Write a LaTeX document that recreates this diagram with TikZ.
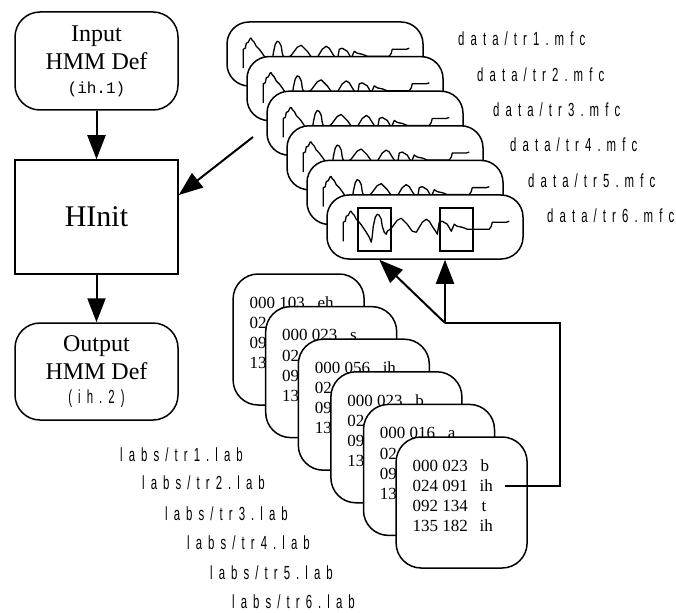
\documentclass[tikz,border=0pt]{standalone}
\usepackage{fontspec}
\setmainfont{Liberation Serif}
\newfontfamily\lblfont[FakeStretch=0.6,LetterSpace=32]{Liberation Sans}
\newfontfamily\codefont{Liberation Mono}
\usetikzlibrary{arrows.meta,calc}
\tikzset{
  box/.style={draw,line width=1.5pt,fill=white,inner sep=0pt},
  roundbox/.style={box,rounded corners=25pt},
  databox/.style={box,rounded corners=22pt,minimum width=196pt,minimum height=64pt},
  labbox/.style={box,rounded corners=25pt,minimum width=131pt,minimum height=131pt},
  wave/.style={line width=1.3pt,line join=round},
  arr/.style={line width=2pt,-{Triangle[length=24pt,width=18pt]}},
  conn/.style={line width=2pt},
  fname/.style={font=\lblfont\fontsize{19}{21}\selectfont,anchor=west,inner sep=0pt},
  labtxt/.style={font=\fontsize{17}{20}\selectfont,anchor=base west,inner sep=0pt},
  segbox/.style={draw,line width=1.5pt,inner sep=0pt,minimum width=33pt,minimum height=43pt,anchor=north west},
}
\newcommand\drawwave[1]{%
  \begin{scope}[shift={(#1.north west)}]
    \draw[wave] plot coordinates {(17,47) (17,28) (19,27) (20,22) (22,21) (24,17) (25,17) (26,19) (28,21) (30,25) (33,28) (36,32) (40,38) (43,43) (45,48) (46,42) (47,32) (49,23) (51,20) (53,21) (55,25) (56,32) (58,38) (60,40) (61,37) (65,34) (68,30) (71,26) (75,24) (78,27) (81,30) (86,37) (90,38) (93,33) (96,28) (100,25) (103,27) (106,32) (110,38) (111,40) (113,28) (116,27) (121,30) (125,37) (128,30) (131,32) (136,33) (141,35) (163,35) (165,32) (166,28) (180,28) (183,27)};
  \end{scope}}
\begin{document}
\begin{tikzpicture}[x=1pt,y=-1pt]
\useasboundingbox (0,0) rectangle (676,612);

% left column
\node[roundbox,minimum width=163pt,minimum height=98pt,align=center,
      font=\fontsize{24}{28}\selectfont] (in) at (96.5,61)
  {Input\\HMM Def\\[-4pt]{\codefont\fontsize{16}{18}\selectfont (ih.1)}};
\node[box,minimum width=163pt,minimum height=114pt,
      font=\fontsize{30}{34}\selectfont] (hinit) at (96.5,217) {HInit};
\node[roundbox,minimum width=163pt,minimum height=97pt,align=center,
      font=\fontsize{24}{28}\selectfont] (out) at (96.5,371.5)
  {Output\\HMM Def\\[-4pt]{\lblfont\fontsize{19}{21}\selectfont (ih.2)}};
\draw[arr] (in) -- (hinit);
\draw[arr] (hinit) -- (out);

% data files
\foreach \k in {1,...,6}{
  \node[databox] (d\k) at ({305+20*\k},{19.4+34.6*\k}) {};
  \drawwave{d\k}
}
\node[segbox] (seg1) at ($(d6.north west)+(31,13)$) {};
\node[segbox] (seg2) at ($(d6.north west)+(113,13)$) {};

\node[fname] (f1) at (458,39) {data/tr1.mfc};
\node[fname] (f2) at (477,75) {data/tr2.mfc};
\node[fname] (f3) at (493,110) {data/tr3.mfc};
\node[fname] (f4) at (510,145) {data/tr4.mfc};
\node[fname] (f5) at (528,181) {data/tr5.mfc};
\node[fname] (f6) at (547,216) {data/tr6.mfc};

% arrow from data to HInit
\coordinate (dtail) at (253,137);
\draw[arr] (dtail) -- ([yshift=22pt]hinit.east);

% label files
\foreach \k/\n/\p in {1/103/eh,2/023/s,3/056/ih,4/023/b,5/016/a}{
  \node[labbox] (l\k) at ({266+32.6*\k},{306.9+32.6*\k}) {};
  \node[labtxt] (l\k-a) at ($(l\k.north west)+(17,35)$) {000 \n};
  \node[labtxt] (l\k-p) at ($(l\k.north west)+(85,35)$) {\p};
  \node[labtxt] (l\k-b) at ($(l\k.north west)+(17,55.5)$) {02};
  \node[labtxt] (l\k-c) at ($(l\k.north west)+(17,75.5)$) {09};
  \node[labtxt] (l\k-d) at ($(l\k.north west)+(17,95.5)$) {13};
}
\node[labbox] (l6) at ({266+32.6*6},{306.9+32.6*6}) {};
\node[labtxt] (l6-n1) at ($(l6.north west)+(17,35)$) {000 023};
\node[labtxt] (l6-q1) at ($(l6.north west)+(85,35)$) {b};
\node[labtxt] (l6-n2) at ($(l6.north west)+(17,55.5)$) {024 091};
\node[labtxt] (l6-q2) at ($(l6.north west)+(84,55.5)$) {ih};
\node[labtxt] (l6-n3) at ($(l6.north west)+(17,75.5)$) {092 134};
\node[labtxt] (l6-q3) at ($(l6.north west)+(86,75.5)$) {t};
\node[labtxt] (l6-n4) at ($(l6.north west)+(17,95.5)$) {135 182};
\node[labtxt] (l6-q4) at ($(l6.north west)+(84,95.5)$) {ih};

\node[fname] (g1) at (120,455) {labs/tr1.lab};
\node[fname] (g2) at (142,483) {labs/tr2.lab};
\node[fname] (g3) at (165,514) {labs/tr3.lab};
\node[fname] (g4) at (187,543) {labs/tr4.lab};
\node[fname] (g5) at (210,573) {labs/tr5.lab};
\node[fname] (g6) at (232,602) {labs/tr6.lab};

% connector from label to segments
\coordinate (corner) at (560,323);
\coordinate (j) at (445,323);
\coordinate (tipA) at ($(d6.south west)+(53,0)$);
\draw[conn] ([xshift=12pt]l6-q2.east) -| (corner) -- (j);
\draw[arr] (j) -- (j |- d6.south);
\draw[arr] (j) -- (tipA);
\end{tikzpicture}
\end{document}
